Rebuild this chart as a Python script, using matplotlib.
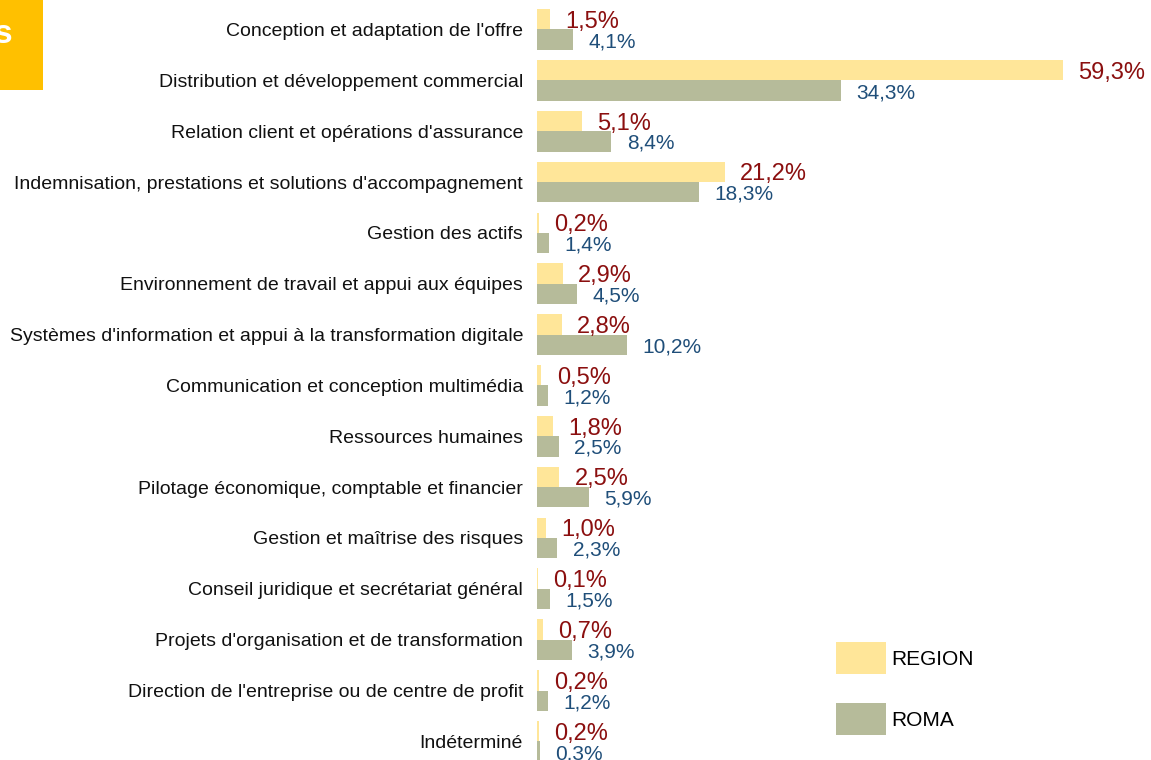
import matplotlib
matplotlib.use("Agg")
import matplotlib.pyplot as plt
import numpy as np
from matplotlib.patches import Rectangle, Patch

# Data (percent)
categories = [
    "Conception et adaptation de l'offre",
    "Distribution et développement commercial",
    "Relation client et opérations d'assurance",
    "Indemnisation, prestations et solutions d'accompagnement",
    "Gestion des actifs",
    "Environnement de travail et appui aux équipes",
    "Systèmes d'information et appui à la transformation digitale",
    "Communication et conception multimédia",
    "Ressources humaines",
    "Pilotage économique, comptable et financier",
    "Gestion et maîtrise des risques",
    "Conseil juridique et secrétariat général",
    "Projets d'organisation et de transformation",
    "Direction de l'entreprise ou de centre de profit",
    "Indéterminé",
]
region = [1.5, 59.3, 5.1, 21.2, 0.2, 2.9, 2.8, 0.5, 1.8, 2.5, 1.0, 0.1, 0.7, 0.2, 0.2]
roma = [4.1, 34.3, 8.4, 18.3, 1.4, 4.5, 10.2, 1.2, 2.5, 5.9, 2.3, 1.5, 3.9, 1.2, 0.3]
series_names = ["REGION", "ROMA"]

C_REGION = "#FFE699"
C_ROMA = "#B6BB9A"
C_RED = "#8B0F0F"
C_BLUE = "#1F4E79"

plt.rcParams["font.family"] = ["Liberation Sans", "DejaVu Sans"]

W, H = 1151, 760
fig = plt.figure(figsize=(W / 100, H / 100), dpi=100)
ax = fig.add_axes([537 / W, 0, 1 - 537 / W, 1])

y = np.arange(len(categories))
h = 0.4
ax.barh(y - h / 2, region, height=h, color=C_REGION)
ax.barh(y + h / 2, roma, height=h, color=C_ROMA)

def fmt(v):
    return f"{v:.1f}%".replace(".", ",")

for i in range(len(categories)):
    ax.annotate(fmt(region[i]), (region[i], y[i] - h / 2), xytext=(11, 0),
                textcoords="offset points", va="center_baseline", ha="left",
                fontsize=17, color=C_RED)
    ax.annotate(fmt(roma[i]), (roma[i], y[i] + h / 2), xytext=(11, 0),
                textcoords="offset points", va="center_baseline", ha="left",
                fontsize=15, color=C_BLUE)

ax.set_xlim(0, 69.26)
ax.set_ylim(14.366, -0.58)
ax.set_yticks(y)
# the original uses a narrow face; regular face at a smaller size keeps the widths
ax.set_yticklabels(categories, fontsize=14, color="#111111")
ax.tick_params(axis="y", length=0, pad=10)
ax.set_xticks([])
for s in ax.spines.values():
    s.set_visible(False)

handles = [Patch(facecolor=C_REGION, edgecolor="none"), Patch(facecolor=C_ROMA, edgecolor="none")]
fig.legend(handles, series_names, loc="upper left", bbox_to_anchor=(836 / W, 1 - 642 / H),
           frameon=False, fontsize=15, handlelength=2.4, handleheight=1.99,
           handletextpad=0.25, labelspacing=1.4, borderpad=0, borderaxespad=0)

# cut-off title box at top-left
fig.patches.append(Rectangle((0, 1 - 90 / H), 43 / W, 90 / H, transform=fig.transFigure,
                             facecolor="#FFC000", edgecolor="none"))
fig.text(12 / W, 1 - 43 / H, "s", color="white", fontsize=24, fontweight="bold",
         ha="right", va="baseline")

fig.savefig("out.png", dpi=100)
